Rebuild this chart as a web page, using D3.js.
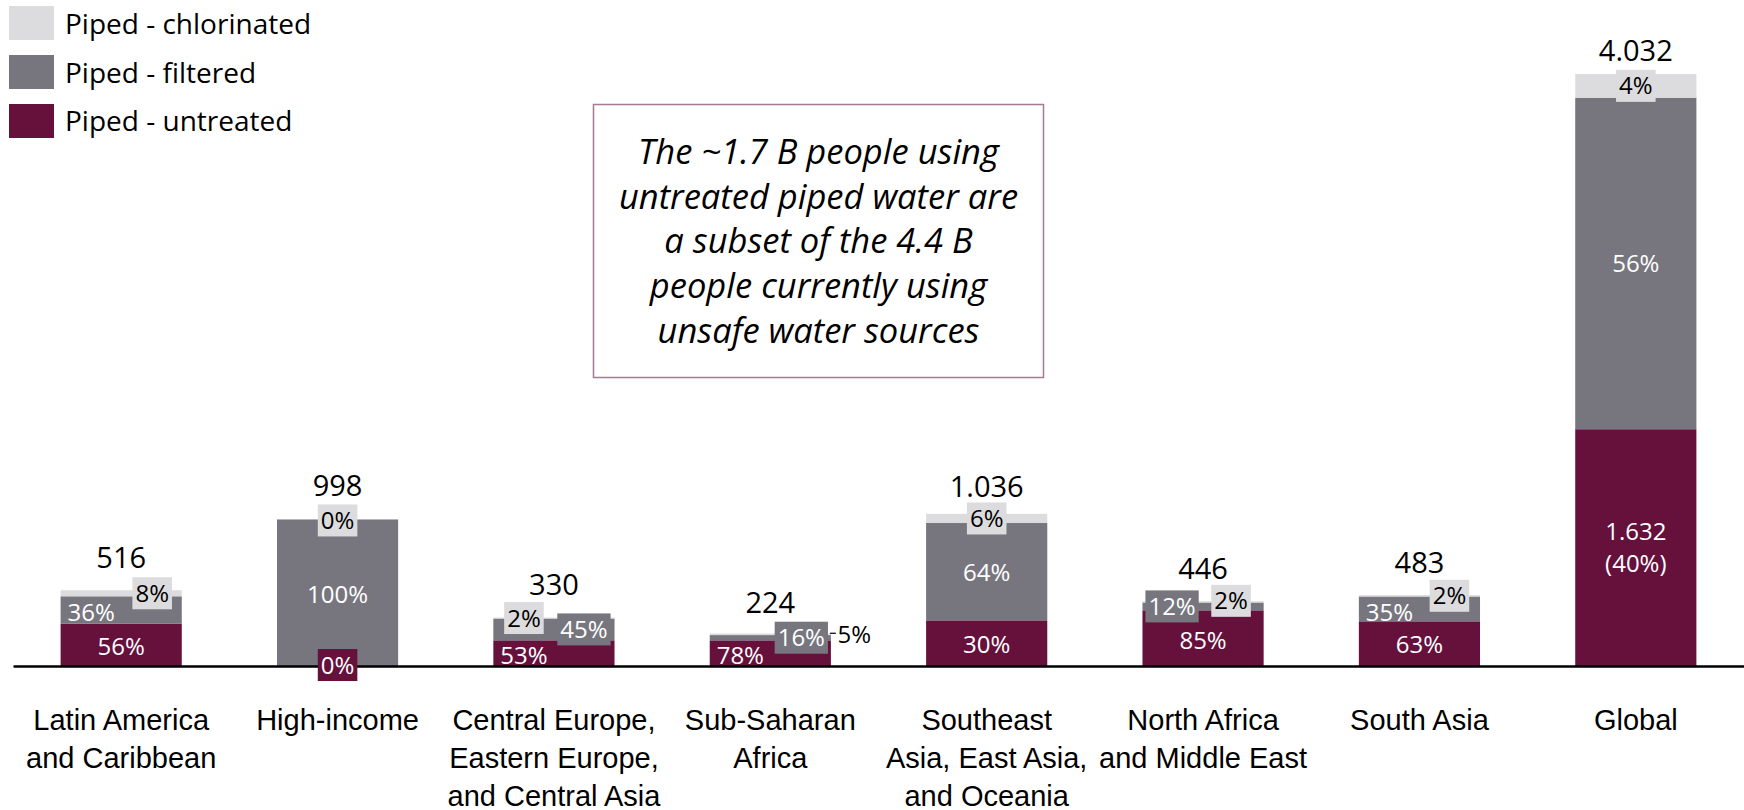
<!DOCTYPE html>
<html>
<head>
<meta charset="utf-8">
<script src="https://cdn.jsdelivr.net/npm/d3@7"></script>
<style>
  body { margin: 0; background: #fff; }
  svg { display: block; font-family: "Open Sans", Lato, sans-serif; }
</style>
</head>
<body>
<div id="chart"></div>
<script>
// data (totals in millions of people, shares in %)
const categories = [
    ["Latin America", "and Caribbean"],
    ["High-income"],
    ["Central Europe,", "Eastern Europe,", "and Central Asia"],
    ["Sub-Saharan", "Africa"],
    ["Southeast", "Asia, East Asia,", "and Oceania"],
    ["North Africa", "and Middle East"],
    ["South Asia"],
    ["Global"]
];
const totals = [516, 998, 330, 224, 1036, 446, 483, 4032];
const untreatedPct = [56, 0, 53, 78, 30, 85, 63, 40];
const filteredPct = [36, 100, 45, 16, 64, 12, 35, 56];
const chlorinatedPct = [8, 0, 2, 5, 6, 2, 2, 4];
const seriesNames = ["Piped - untreated", "Piped - filtered", "Piped - chlorinated"];
const noteLines = [
    "The ~1.7 B people using",
    "untreated piped water are",
    "a subset of the 4.4 B",
    "people currently using",
    "unsafe water sources"
];

(function() {
    const width = 1744, height = 810;
    const baseline = 666;
    const colors = ["#66103c", "#77767e", "#dcdcde"];
    const textColors = ["#fff", "#fff", "#000"];

    // label nudges in px: [dx, dy, boxed] for untreated, filtered, chlorinated
    const labelLayout = [
        [[0, 2, false], [-30, 2, false], [31, 0, true]],
        [[0, -1, true], [0, 2, false], [0, 1, true]],
        [[-30, 2, false], [30, 0, true], [-30, 0, true]],
        [[-30, 2, false], [31, 0, true], [84, 0, false]],
        [[0, 1, false], [0, 1, false], [0, 0, true]],
        [[0, 2, false], [-31, 0, true], [28, -1, true]],
        [[0, 1, false], [-30, 3, false], [30, 0, true]],
        [[0, 0, false], [0, 0, false], [0, 0, true]]
    ];
    const totalGap = [32, 33, 33, 30, 27, 32, 32, 23];

    const fmt = d3.formatLocale({decimal: ",", thousands: ".", grouping: [3], currency: ["", ""]}).format(",d");

    const svg = d3.select("#chart").append("svg")
        .attr("width", width).attr("height", height);

    const x = d3.scaleBand().domain(d3.range(categories.length))
        .range([13, width]).paddingInner(0.44).paddingOuter(0.22);
    const y = d3.scaleLinear().domain([0, d3.max(totals)]).range([baseline, 74]);

    const rows = totals.map((t, i) => ({
        i, total: t,
        segs: [untreatedPct[i], filteredPct[i], chlorinatedPct[i]]
    }));
    const stack = [];
    rows.forEach(r => {
        let acc = 0;
        r.segs.forEach((p, k) => {
            const v = r.total * p / 100;
            stack.push({i: r.i, k, p, y0: acc, y1: acc + v});
            acc += v;
        });
    });

    svg.append("g").selectAll("rect")
        .data(stack)
        .enter().append("rect")
        .attr("x", d => x(d.i))
        .attr("width", x.bandwidth())
        .attr("y", d => y(d.y1))
        .attr("height", d => y(d.y0) - y(d.y1))
        .attr("fill", d => colors[d.k]);

    // axis
    const axis = svg.append("g")
        .attr("transform", `translate(0,${baseline})`)
        .call(d3.axisBottom(x).tickSize(0).tickFormat(""));
    axis.select(".domain").attr("stroke", "#000").attr("stroke-width", 2.5);
    axis.selectAll(".tick text").remove();
    axis.selectAll(".tick").append("text")
        .attr("fill", "#000")
        .attr("text-anchor", "middle")
        .style("font-size", "29px")
        .each(function(i) {
            const t = d3.select(this);
            categories[i].forEach((line, j) => {
                t.append("tspan").attr("x", 0).attr("y", 64 + j * 38).text(line);
            });
        });

    // segment labels
    const pctFont = 24;
    const labels = svg.append("g").style("font-size", pctFont + "px");
    stack.forEach(d => {
        const [dx, dy, boxed] = labelLayout[d.i][d.k];
        const cx = x(d.i) + x.bandwidth() / 2 + dx;
        const cy = (y(d.y0) + y(d.y1)) / 2 + dy;
        const g = labels.append("g").attr("transform", `translate(${cx},${cy})`);
        const isGlobalUntreated = d.i === totals.length - 1 && d.k === 0;
        const txt = g.append("text")
            .attr("text-anchor", "middle")
            .attr("fill", boxed || d.k !== 2 ? textColors[d.k] : "#000");
        if (isGlobalUntreated) {
            txt.append("tspan").attr("x", 0).attr("y", -16 + pctFont * 0.36).text(fmt(1632));
            txt.append("tspan").attr("x", 0).attr("y", 16 + pctFont * 0.36).text(`(${d.p}%)`);
        } else {
            txt.attr("y", pctFont * 0.36).text(d.p + "%");
        }
        if (boxed) {
            const w = txt.node().getBBox().width + 6;
            g.insert("rect", "text")
                .attr("x", -w / 2).attr("y", -16)
                .attr("width", w).attr("height", 32)
                .attr("fill", colors[d.k]);
        }
        // leader for the tiny slice on Sub-Saharan Africa
        if (!boxed && d.k === 2) {
            const bx = x(d.i) + x.bandwidth();
            labels.append("line")
                .attr("x1", bx - 1).attr("x2", bx + 5)
                .attr("y1", cy - 1).attr("y2", cy - 1)
                .attr("stroke", "#000").attr("stroke-width", 1.2);
        }
    });

    // totals
    svg.append("g").selectAll("text")
        .data(rows)
        .enter().append("text")
        .attr("x", d => x(d.i) + x.bandwidth() / 2)
        .attr("y", d => y(d.total) - totalGap[d.i] + 10)
        .attr("text-anchor", "middle")
        .style("font-size", "29px")
        .text(d => fmt(d.total));

    // legend
    const legend = svg.append("g");
    [2, 1, 0].forEach((k, j) => {
        legend.append("rect")
            .attr("x", 9).attr("y", 6 + j * 49)
            .attr("width", 45).attr("height", 34)
            .attr("fill", colors[k]);
        legend.append("text")
            .attr("x", 65).attr("y", 34 + j * 48.5)
            .style("font-size", "28px")
            .text(seriesNames[k]);
    });

    // note box
    const note = svg.append("g");
    note.append("rect")
        .attr("x", 593.5).attr("y", 104.5)
        .attr("width", 450).attr("height", 273)
        .attr("fill", "#fff")
        .attr("stroke", "#a57a92").attr("stroke-width", 1.5);
    note.append("text")
        .attr("text-anchor", "middle")
        .style("font-size", "34.5px")
        .style("font-style", "italic")
        .selectAll("tspan")
        .data(noteLines)
        .enter().append("tspan")
        .attr("x", 818.5)
        .attr("y", (d, j) => 164 + j * 44.7)
        .text(d => d);
})();
</script>
</body>
</html>
